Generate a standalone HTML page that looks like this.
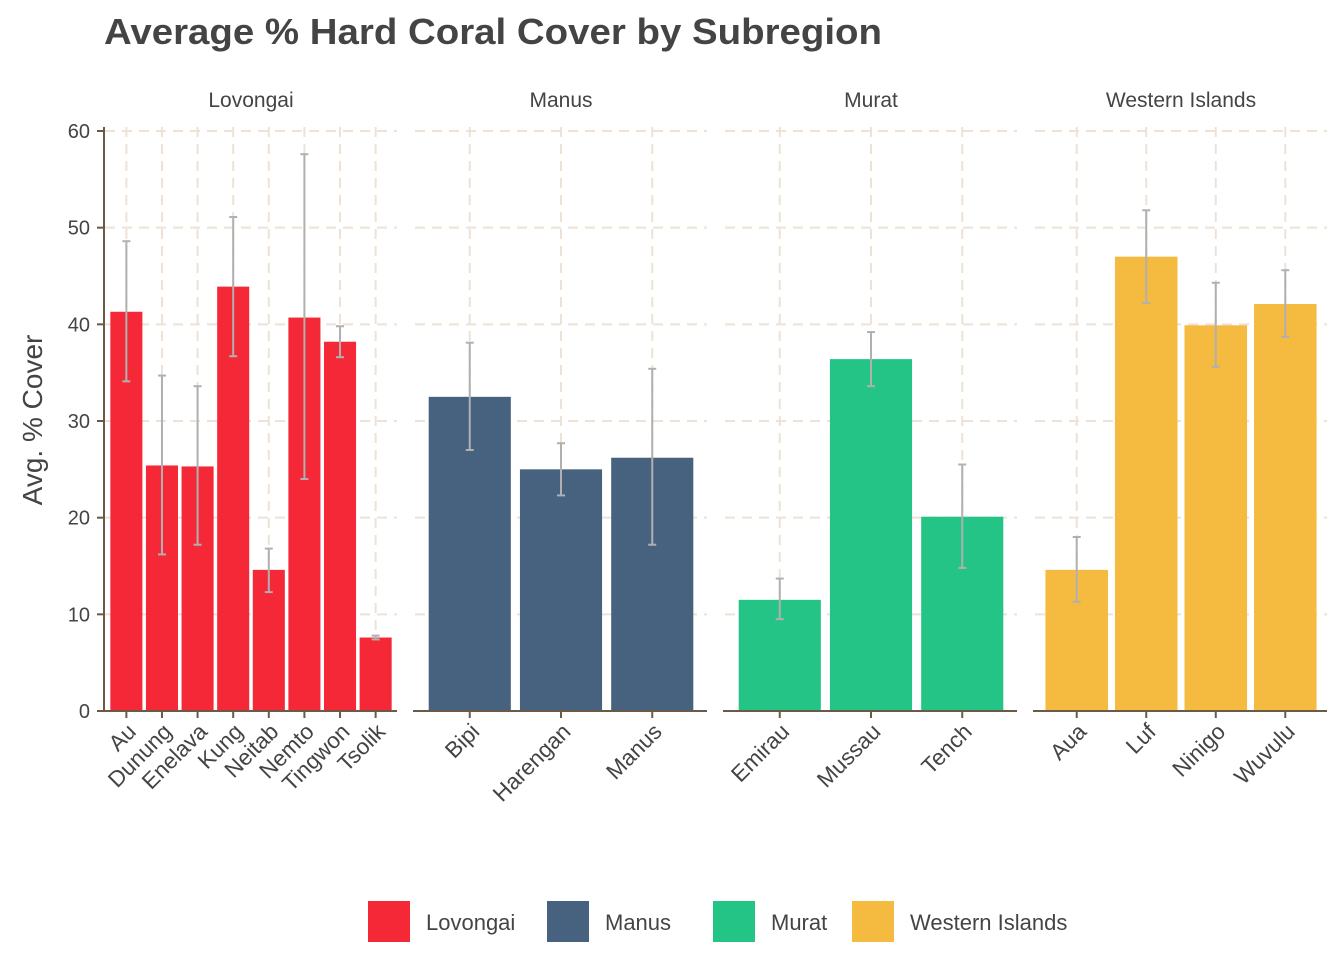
<!DOCTYPE html>
<html><head><meta charset="utf-8"><style>
body{margin:0;background:#fff;}
svg text{font-family:"Liberation Sans",Arial,sans-serif;}
</style></head><body>
<svg id="c" width="1344" height="960" xmlns="http://www.w3.org/2000/svg">
<text x="104" y="44" font-size="36" font-weight="bold" fill="#444" textLength="778" lengthAdjust="spacingAndGlyphs">Average % Hard Coral Cover by Subregion</text>
<text transform="translate(42,420) rotate(-90)" text-anchor="middle" font-size="28" fill="#444">Avg. % Cover</text>
<g id="plot"></g>
</svg>
<script>
const panels = ["Lovongai","Manus","Murat","Western Islands"];
const colors = ["#f42837","#46627f","#24c386","#f4bb40"];
const cats = [["Au","Dunung","Enelava","Kung","Neitab","Nemto","Tingwon","Tsolik"],["Bipi","Harengan","Manus"],["Emirau","Mussau","Tench"],["Aua","Luf","Ninigo","Wuvulu"]];
const vals = [[41.3,25.4,25.3,43.9,14.6,40.7,38.2,7.6],[32.5,25.0,26.2],[11.5,36.4,20.1],[14.6,47.0,39.9,42.1]];
const lows = [[34.1,16.2,17.2,36.7,12.3,24.0,36.6,7.4],[27.0,22.3,17.2],[9.5,33.6,14.8],[11.3,42.2,35.6,38.7]];
const highs = [[48.6,34.7,33.6,51.1,16.8,57.6,39.8,7.8],[38.1,27.7,35.4],[13.7,39.2,25.5],[18.0,51.8,44.3,45.6]];
const yTicks = [0,10,20,30,40,50,60];

const NS="http://www.w3.org/2000/svg";
const g=document.getElementById('plot');
function el(t,a,p){const e=document.createElementNS(NS,t);for(const k in a)e.setAttribute(k,a[k]);(p||g).appendChild(e);return e;}
const y0=711, yTop=131;
const y=v=>y0-(v/60)*(y0-yTop);
const pStarts=[105,415,725,1035], pW=292;
yTicks.forEach(t=>{
  const tx=el('text',{x:90,y:y(t)+7,'text-anchor':'end','font-size':20,fill:'#444'});
  tx.textContent=t;
  
  
  el('line',{x1:97,x2:104,y1:y(t),y2:y(t),stroke:'#6b5a45','stroke-width':2});
});
panels.forEach((p,pi)=>{
  const x0=pStarts[pi], n=cats[pi].length, bw=pW/(n+0.2);
  const cx=i=>x0+(i+0.6)*bw;
  const st=el('text',{x:x0+pW/2,y:107,'text-anchor':'middle','font-size':21,fill:'#444'});
  st.textContent=p;
  
  
  yTicks.forEach(t=>el('line',{x1:x0,x2:x0+pW,y1:y(t),y2:y(t),stroke:'#eee2d6','stroke-width':2,'stroke-dasharray':'10,7'}));
  cats[pi].forEach((c,i)=>el('line',{x1:cx(i),x2:cx(i),y1:yTop-4,y2:y0,stroke:'#eee2d6','stroke-width':2,'stroke-dasharray':'10,7'}));
  cats[pi].forEach((c,i)=>{
    const r=el('rect',{x:cx(i)-0.45*bw,y:y(vals[pi][i]),width:0.9*bw,height:y0-y(vals[pi][i]),fill:colors[pi]});
    
    
    const e=el('g',{stroke:'#b0b0b0','stroke-width':2});
    
    
    el('line',{x1:cx(i),x2:cx(i),y1:y(lows[pi][i]),y2:y(highs[pi][i])},e);
    el('line',{x1:cx(i)-4,x2:cx(i)+4,y1:y(lows[pi][i]),y2:y(lows[pi][i])},e);
    el('line',{x1:cx(i)-4,x2:cx(i)+4,y1:y(highs[pi][i]),y2:y(highs[pi][i])},e);
    el('line',{x1:cx(i),x2:cx(i),y1:y0,y2:y0+7,stroke:'#6b5a45','stroke-width':2});
    const tl=el('text',{transform:`translate(${cx(i)+11},${y0+22}) rotate(-45)`,'text-anchor':'end','font-size':22.5,fill:'#444'});
    tl.textContent=c;
    
    
  });
  el('line',{x1:x0-2,x2:x0+pW,y1:y0,y2:y0,stroke:'#6b5a45','stroke-width':2});
});
el('line',{x1:104,x2:104,y1:yTop-4,y2:y0+1,stroke:'#6b5a45','stroke-width':2});
// legend
const lx=[368,547,713,852];
panels.forEach((p,i)=>{
  const lg=el('g',{});
  
  
  el('rect',{x:lx[i],y:901,width:42,height:41,fill:colors[i]},lg);
  const t=el('text',{x:lx[i]+58,y:930,'font-size':22,fill:'#444'},lg);
  t.textContent=p;
});
</script>
</body></html>
